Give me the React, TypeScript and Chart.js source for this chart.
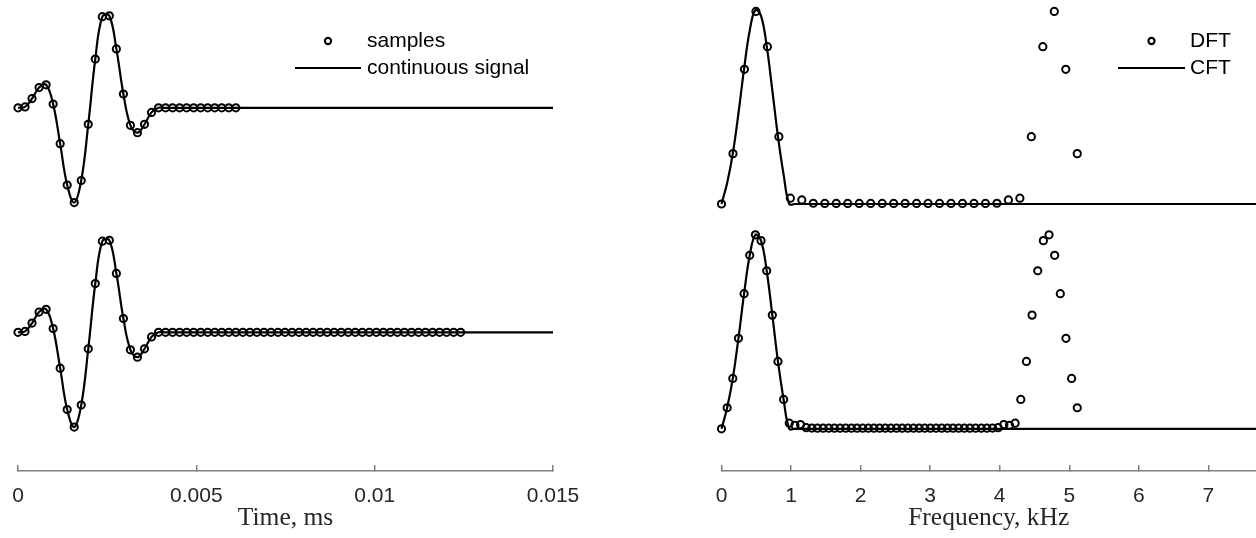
import React, { useEffect, useRef } from 'react';
import { Chart, registerables } from 'chart.js';

Chart.register(...registerables);

// ---------------- data ----------------
// time step between samples (axis units of the "Time, ms" axis)
const SAMPLE_STEP = 0.000197;
const TIME_AXIS_MAX = 0.015;
const TIME_TICKS = [0, 0.005, 0.01, 0.015];
const TIME_TICK_LABELS = ['0', '0.005', '0.01', '0.015'];

// 32 samples (top left)
const SIGNAL_SAMPLES_32 = [
  0.0, 0.01, 0.1, 0.22, 0.25, 0.04, -0.39, -0.84, -1.03, -0.79, -0.18,
  0.53, 0.99, 1.0, 0.64, 0.15, -0.19, -0.27, -0.18, -0.05, 0.0, 0.0,
  0, 0, 0, 0, 0, 0, 0, 0, 0, 0,
];

// 64 samples, zero padded (bottom left)
const SIGNAL_SAMPLES_64 = [
  0.0, 0.01, 0.1, 0.22, 0.25, 0.04, -0.39, -0.84, -1.03, -0.79, -0.18,
  0.53, 0.99, 1.0, 0.64, 0.15, -0.19, -0.27, -0.18, -0.05, 0.0, 0.0,
  0, 0, 0, 0, 0, 0, 0, 0, 0, 0,
  0, 0, 0, 0, 0, 0, 0, 0, 0, 0,
  0, 0, 0, 0, 0, 0, 0, 0, 0, 0,
  0, 0, 0, 0, 0, 0, 0, 0, 0, 0,
  0, 0,
];

// frequency (kHz) of the last DFT bin as plotted
const LAST_BIN_FREQ = 5.115;
const FREQ_AXIS_MAX = 7.685;
const FREQ_TICKS = [0, 1, 2, 3, 4, 5, 6, 7];
const FREQ_TICK_LABELS = ['0', '1', '2', '3', '4', '5', '6', '7'];

// |DFT| of the 32-sample signal (top right)
const DFT_32 = [
  0, 0.261, 0.698, 0.998, 0.815, 0.349, 0.03, 0.021, 0.004,
  0.003, 0.003, 0.003, 0.003, 0.003, 0.003, 0.003, 0.003, 0.003, 0.003,
  0.003, 0.003, 0.003, 0.003, 0.003,
  0.004, 0.021, 0.03, 0.349, 0.815, 0.998, 0.698, 0.261,
];

// |DFT| of the 64-sample signal (bottom right)
const DFT_64 = [
  0, 0.109, 0.261, 0.469, 0.7, 0.899, 1.005, 0.975, 0.819, 0.589, 0.349,
  0.152, 0.029, 0.018, 0.022, 0.006, 0.004,
  0.003, 0.003, 0.003, 0.003, 0.003, 0.003, 0.003, 0.003, 0.003, 0.003,
  0.003, 0.003, 0.003, 0.003, 0.003, 0.003, 0.003, 0.003, 0.003, 0.003,
  0.003, 0.003, 0.003, 0.003, 0.003, 0.003, 0.003, 0.003, 0.003, 0.003,
  0.003,
  0.004, 0.006, 0.022, 0.018, 0.029, 0.152, 0.349, 0.589, 0.819, 0.975,
  1.005, 0.899, 0.7, 0.469, 0.261, 0.109,
];

// CFT read on the 64-bin frequency grid (first bins), zero afterwards
const CFT_ON_GRID = [
  0, 0.109, 0.261, 0.469, 0.7, 0.899, 1.005, 0.975, 0.819, 0.589, 0.349,
  0.152, 0.0, 0.0,
];

// ---------------- layout / style ----------------
const W = 1256;
const H = 538;
const AXIS_Y = 471;
const LEFT_CANVAS = { left: 0, width: 640 };
const RIGHT_CANVAS = { left: 640, width: 616 };
const LEFT_AREA = { x0: 18, x1: 553 };
const RIGHT_AREA = { x0: 721.5, x1: 1256 };
const LEFT_Y = { zeroTop: 107.8, zeroBottom: 332.3, pxPerUnit: 92 };
const RIGHT_Y = { zeroTop: 204, zeroBottom: 428.8, pxPerUnit: 193 };

const AXIS_COLOR = '#808080';
const TEXT_COLOR = '#262626';
const INK = '#000000';
const SANS = '"Liberation Sans", Arial, Helvetica, sans-serif';
const SERIF = '"Liberation Serif", "Times New Roman", serif';

const toPoints = (values: number[], step: number) =>
  values.map((y, i) => ({ x: i * step, y }));

const yRange = (zeroPx: number, pxPerUnit: number) => ({
  min: -(AXIS_Y - zeroPx) / pxPerUnit,
  max: zeroPx / pxPerUnit,
});

type LegendRow = { datasetIndex: number; kind: 'marker' | 'line'; y: number };

function makeLegendPlugin(symbolX: number, symbolHalf: number, textX: number, rows: LegendRow[]) {
  return {
    id: 'insetLegend',
    afterDatasetsDraw(chart: any) {
      const ctx: CanvasRenderingContext2D = chart.ctx;
      ctx.save();
      ctx.font = `21px ${SANS}`;
      ctx.fillStyle = INK;
      ctx.textBaseline = 'middle';
      ctx.textAlign = 'left';
      for (const row of rows) {
        const ds = chart.data.datasets[row.datasetIndex];
        ctx.strokeStyle = ds.borderColor;
        ctx.beginPath();
        if (row.kind === 'marker') {
          ctx.lineWidth = 2.1;
          ctx.arc(symbolX, row.y, 3.1, 0, Math.PI * 2);
        } else {
          ctx.lineWidth = ds.borderWidth;
          ctx.moveTo(symbolX - symbolHalf, row.y);
          ctx.lineTo(symbolX + symbolHalf, row.y);
        }
        ctx.stroke();
        ctx.fillText(ds.label, textX, row.y);
      }
      ctx.restore();
    },
  };
}

function markerDataset(label: string, data: any[], yAxisID: string) {
  return {
    label,
    data,
    yAxisID,
    showLine: false,
    pointStyle: 'circle',
    pointRadius: 3.6,
    pointBorderWidth: 2,
    pointBorderColor: INK,
    pointBackgroundColor: 'rgba(0,0,0,0)',
    borderColor: INK,
    clip: false as any,
  };
}

function lineDataset(label: string, data: any[], yAxisID: string) {
  return {
    label,
    data,
    yAxisID,
    showLine: true,
    pointRadius: 0,
    borderColor: INK,
    borderWidth: 2.2,
    tension: 0.4,
    fill: false,
    clip: false as any,
  };
}

function xScale(max: number, ticks: number[], labels: string[], title: string) {
  return {
    type: 'linear',
    position: 'bottom',
    min: 0,
    max,
    afterBuildTicks: (axis: any) => {
      axis.ticks = ticks.map((v) => ({ value: v }));
    },
    afterFit: (axis: any) => {
      axis.height = H - AXIS_Y;
      axis.paddingLeft = 0;
      axis.paddingRight = 0;
      axis.paddingTop = 0;
      axis.paddingBottom = 0;
    },
    ticks: {
      autoSkip: false,
      maxRotation: 0,
      padding: 19,
      color: TEXT_COLOR,
      font: { family: SANS, size: 21 },
      callback: (v: number) => labels[ticks.indexOf(v)] ?? '',
    },
    grid: {
      display: true,
      drawOnChartArea: false,
      drawTicks: true,
      tickLength: -6,
      color: AXIS_COLOR,
      lineWidth: 1.5,
    },
    border: { display: true, color: AXIS_COLOR, width: 1.5 },
    title: {
      display: true,
      text: title,
      color: TEXT_COLOR,
      font: { family: SERIF, size: 25.5 },
      padding: { top: 0, bottom: 4 },
    },
  };
}

const hiddenY = (range: { min: number; max: number }) => ({
  type: 'linear',
  display: false,
  ...range,
  afterFit: (axis: any) => {
    axis.paddingTop = 0;
    axis.paddingBottom = 0;
    axis.paddingLeft = 0;
    axis.paddingRight = 0;
  },
});

function baseOptions(padLeft: number, padRight: number, x: any, yTop: any, yBot: any) {
  return {
    animation: false,
    responsive: false,
    devicePixelRatio: 1,
    events: [],
    layout: { autoPadding: false, padding: { left: padLeft, right: padRight, top: 0, bottom: 0 } },
    plugins: { legend: { display: false }, tooltip: { enabled: false }, title: { display: false } },
    scales: {
      x,
      yTop: hiddenY(yTop),
      yBot: hiddenY(yBot),
    },
  };
}

function leftConfig(): any {
  const s32 = toPoints(SIGNAL_SAMPLES_32, SAMPLE_STEP);
  const s64 = toPoints(SIGNAL_SAMPLES_64, SAMPLE_STEP);
  return {
    type: 'scatter',
    data: {
      datasets: [
        markerDataset('samples', s32, 'yTop'),
        lineDataset('continuous signal', [...s32, { x: TIME_AXIS_MAX, y: 0 }], 'yTop'),
        markerDataset('samples', s64, 'yBot'),
        lineDataset('continuous signal', [...s64, { x: TIME_AXIS_MAX, y: 0 }], 'yBot'),
      ],
    },
    options: baseOptions(
      LEFT_AREA.x0 - LEFT_CANVAS.left,
      LEFT_CANVAS.left + LEFT_CANVAS.width - LEFT_AREA.x1,
      xScale(TIME_AXIS_MAX, TIME_TICKS, TIME_TICK_LABELS, 'Time, ms'),
      yRange(LEFT_Y.zeroTop, LEFT_Y.pxPerUnit),
      yRange(LEFT_Y.zeroBottom, LEFT_Y.pxPerUnit),
    ),
    plugins: [
      makeLegendPlugin(328 - LEFT_CANVAS.left, 33, 367 - LEFT_CANVAS.left, [
        { datasetIndex: 0, kind: 'marker', y: 41 },
        { datasetIndex: 1, kind: 'line', y: 68 },
      ]),
    ],
  };
}

function rightConfig(): any {
  const d32 = DFT_32.map((y, k) => ({ x: (k * LAST_BIN_FREQ) / (DFT_32.length - 1), y }));
  const d64 = DFT_64.map((y, k) => ({ x: (k * LAST_BIN_FREQ) / (DFT_64.length - 1), y }));
  const cft = [
    ...CFT_ON_GRID.map((y, k) => ({ x: (k * LAST_BIN_FREQ) / (DFT_64.length - 1), y })),
    { x: FREQ_AXIS_MAX, y: 0 },
  ];
  return {
    type: 'scatter',
    data: {
      datasets: [
        markerDataset('DFT', d32, 'yTop'),
        lineDataset('CFT', cft, 'yTop'),
        markerDataset('DFT', d64, 'yBot'),
        lineDataset('CFT', cft, 'yBot'),
      ],
    },
    options: baseOptions(
      RIGHT_AREA.x0 - RIGHT_CANVAS.left,
      RIGHT_CANVAS.left + RIGHT_CANVAS.width - RIGHT_AREA.x1,
      xScale(FREQ_AXIS_MAX, FREQ_TICKS, FREQ_TICK_LABELS, 'Frequency, kHz'),
      yRange(RIGHT_Y.zeroTop, RIGHT_Y.pxPerUnit),
      yRange(RIGHT_Y.zeroBottom, RIGHT_Y.pxPerUnit),
    ),
    plugins: [
      makeLegendPlugin(1151.5 - RIGHT_CANVAS.left, 33.5, 1190 - RIGHT_CANVAS.left, [
        { datasetIndex: 0, kind: 'marker', y: 41 },
        { datasetIndex: 1, kind: 'line', y: 68 },
      ]),
    ],
  };
}

function ChartCanvas({ left, width, config }: { left: number; width: number; config: () => any }) {
  const ref = useRef<HTMLCanvasElement | null>(null);
  useEffect(() => {
    if (!ref.current) return;
    const chart = new Chart(ref.current, config());
    return () => chart.destroy();
  }, [config]);
  return (
    <canvas
      ref={ref}
      width={width}
      height={H}
      style={{ position: 'absolute', left, top: 0, width, height: H, display: 'block' }}
    />
  );
}

export default function App() {
  return (
    <div
      style={{
        position: 'fixed',
        left: 0,
        top: 0,
        width: W,
        height: H,
        overflow: 'hidden',
        background: '#ffffff',
      }}
    >
      <ChartCanvas left={LEFT_CANVAS.left} width={LEFT_CANVAS.width} config={leftConfig} />
      <ChartCanvas left={RIGHT_CANVAS.left} width={RIGHT_CANVAS.width} config={rightConfig} />
    </div>
  );
}
